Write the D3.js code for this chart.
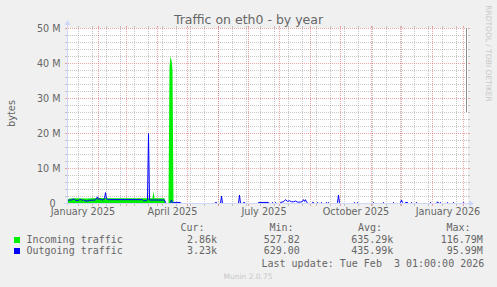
<!DOCTYPE html>
<html><head><meta charset="utf-8">
<script src="https://cdn.jsdelivr.net/npm/d3@7"></script>
<style>html,body{margin:0;padding:0;background:#f0f0f0;overflow:hidden}svg{display:block}text.pre{white-space:pre}</style>
</head><body>
<svg id="c" width="497" height="287"></svg>
<script>
// ---- data ----
const title = "Traffic on eth0 - by year";
const yLabel = "bytes";
const yTickValues = [0, 10e6, 20e6, 30e6, 40e6, 50e6];
const xLabelMonths = ["2025-01-01", "2025-04-01", "2025-07-01", "2025-10-01", "2026-01-01"];
const xLabelTexts = ["January 2025", "April 2025", "July 2025", "October 2025", "January 2026"];
const seriesNames = ["Incoming traffic", "Outgoing traffic"];
const seriesColors = ["#00ee00", "#0000ff"];
const legendHeaders = ["Cur:", "Min:", "Avg:", "Max:"];
const curValues = ["2.86k", "3.23k"];
const minValues = ["527.82", "629.00"];
const avgValues = ["635.29k", "435.99k"];
const maxValues = ["116.79M", "95.99M"];
const lastUpdate = "Last update: Tue Feb  3 01:00:00 2026";
const versionText = "Munin 2.0.75";
const watermark = "RRDTOOL / TOBI OETIKER";

// values in millions of bytes
const incoming = [
  ["2025-01-01",1.0],["2025-01-03",1.4],["2025-01-10",1.5],["2025-01-20",1.4],["2025-02-01",1.6],
  ["2025-02-15",1.5],["2025-03-01",1.5],["2025-03-15",1.5],["2025-03-27",1.5],["2025-03-28",3.5],
  ["2025-03-29",1.5],["2025-04-08",1.5],["2025-04-09",0],["2025-04-12",0],["2025-04-13",39],
  ["2025-04-14",42],["2025-04-15",41],["2025-04-16",38],["2025-04-17",0],["2026-02-03",0]
];
const outgoing = [
  ["2025-01-01",0.9],["2025-01-03",1.0],["2025-01-05",1.0],["2025-01-06",1.2],["2025-01-08",1.2],
  ["2025-01-09",0.9],["2025-01-12",0.9],["2025-01-13",1.1],["2025-01-15",1.1],["2025-01-16",0.8],
  ["2025-01-17",1.1],["2025-01-19",0.6],["2025-01-20",1.0],["2025-01-21",0.5],["2025-01-22",0.9],
  ["2025-01-29",1.0],["2025-01-31",1.9],["2025-02-01",1.1],["2025-02-02",1.3],["2025-02-05",1.0],
  ["2025-02-07",1.3],["2025-02-08",3.1],["2025-02-09",1.3],["2025-02-11",1.1],["2025-03-17",1.1],
  ["2025-03-18",0.8],["2025-03-21",0.8],["2025-03-22",1.0],["2025-03-23",20.0],["2025-03-24",1.0],
  ["2025-04-08",1.0],["2025-04-09",0.2],["2025-04-10",0],["2025-04-13",0],["2025-04-14",0.2],
  ["2025-04-15",1.0],["2025-04-16",0.2],["2025-04-17",0.3],["2025-04-24",0.3],["2025-04-25",0],
  ["2025-05-28",0],["2025-05-29",0.3],["2025-05-30",0.3],["2025-05-31",0],
  ["2025-06-03",0],["2025-06-04",2.1],["2025-06-05",0],
  ["2025-06-21",0],["2025-06-22",2.4],["2025-06-23",0],
  ["2025-06-25",0],["2025-06-26",0.3],["2025-06-27",0.3],["2025-06-28",0],
  ["2025-07-10",0],["2025-07-11",0.3],["2025-07-21",0.3],["2025-07-22",0],
  ["2025-07-24",0],["2025-07-25",0.3],["2025-07-26",0],
  ["2025-07-27",0],["2025-07-28",0.3],["2025-07-29",0],
  ["2025-08-01",0],["2025-08-02",0.3],["2025-08-05",0.5],["2025-08-07",1.1],["2025-08-09",0.6],
  ["2025-08-11",0.8],["2025-08-13",0.5],["2025-08-15",0.5],["2025-08-17",0.7],["2025-08-19",0.4],
  ["2025-08-22",0.4],["2025-08-24",0.6],["2025-08-25",1.1],["2025-08-26",0.6],["2025-08-27",1.1],
  ["2025-08-28",0.4],["2025-08-29",0.2],["2025-08-30",0],
  ["2025-09-02",0],["2025-09-03",0.3],["2025-09-04",0.3],["2025-09-05",0],
  ["2025-09-07",0],["2025-09-08",0.3],["2025-09-09",0],
  ["2025-09-11",0],["2025-09-12",0.3],["2025-09-13",0],
  ["2025-09-16",0],["2025-09-17",0.3],["2025-09-18",0],["2025-09-19",0.3],["2025-09-20",0],
  ["2025-09-27",0],["2025-09-28",0.2],["2025-09-29",2.4],["2025-09-30",0.2],["2025-10-01",0],
  ["2025-10-14",0],["2025-10-15",0.3],["2025-10-16",0],
  ["2025-10-17",0],["2025-10-18",0.3],["2025-10-19",0],
  ["2025-11-02",0],["2025-11-03",0.3],["2025-11-04",0],
  ["2025-11-12",0],["2025-11-13",0.3],["2025-11-14",0],
  ["2025-11-22",0],["2025-11-23",0.3],["2025-11-24",0],
  ["2025-11-29",0],["2025-11-30",0.3],["2025-12-01",1.0],["2025-12-02",0.3],["2025-12-03",0],
  ["2025-12-04",0],["2025-12-05",0.3],["2025-12-07",0.3],["2025-12-08",0],
  ["2025-12-10",0],["2025-12-11",0.3],["2025-12-12",0],
  ["2025-12-15",0],["2025-12-16",0.3],["2025-12-17",0],
  ["2025-12-29",0],["2025-12-30",0.3],["2025-12-31",0],
  ["2026-01-05",0],["2026-01-06",0.5],["2026-01-07",0.2],["2026-01-08",0],["2026-01-09",0.3],["2026-01-10",0],
  ["2026-01-15",0],["2026-01-16",0.3],["2026-01-17",0],
  ["2026-01-21",0],["2026-01-22",0.3],["2026-01-23",0],
  ["2026-01-31",0],["2026-02-01",0.3],["2026-02-02",0],["2026-02-03",0]
];

// ---- drawing ----
const parse = d3.utcParse("%Y-%m-%d");
const DAY = 864e5;
const tStart = parse("2025-01-01");
const tEnd = new Date(+tStart + 400 * DAY);
const L = 67, R = 467, T = 28, B = 203;

const x = d3.scaleUtc().domain([tStart, tEnd]).range([L + 0.5, R + 0.5]);
const y = d3.scaleLinear().domain([0, 50e6]).range([B + 0.5, T + 0.5]);

const svg = d3.select("#c");
const FONT = "'DejaVu Sans', Verdana, sans-serif";
const MONO = "'DejaVu Sans Mono', monospace";
const fontCol = "#666666";
const axisCol = "#CFD6F8";
const gridCol = "rgba(143,143,143,0.5)";
const mgridCol = "rgba(222,79,79,0.5)";

svg.append("rect").attr("width", 497).attr("height", 287).attr("fill", "#f0f0f0");
svg.append("rect").attr("x", L).attr("y", T).attr("width", R - L + 1).attr("height", B - T + 1).attr("fill", "#ffffff");

const grid = svg.append("g").attr("shape-rendering", "crispEdges").attr("stroke-width", 1);

const yMinor = d3.range(0, 50e6 + 1, 2e6).filter(v => v % 10e6 !== 0);
const yMajor = yTickValues;
const xMinor = d3.utcDay.range(parse("2025-01-12"), tEnd, 14);
const xMajor = d3.utcMonth.range(tStart, tEnd);

grid.selectAll(".hm").data(yMinor).join("line")
  .attr("x1", L + 0.5).attr("x2", R + 0.5).attr("y1", d => y(d)).attr("y2", d => y(d))
  .attr("stroke", gridCol).attr("stroke-dasharray", "1,1");
grid.selectAll(".vm").data(xMinor).join("line")
  .attr("x1", d => x(d)).attr("x2", d => x(d)).attr("y1", T + 0.5).attr("y2", B + 0.5)
  .attr("stroke", gridCol).attr("stroke-dasharray", "1,1");
grid.selectAll(".hM").data(yMajor).join("line")
  .attr("x1", L + 0.5).attr("x2", R + 0.5).attr("y1", d => y(d)).attr("y2", d => y(d))
  .attr("stroke", mgridCol).attr("stroke-dasharray", "1,1");
grid.selectAll(".vM").data(xMajor).join("line")
  .attr("x1", d => x(d)).attr("x2", d => x(d)).attr("y1", T + 0.5).attr("y2", B + 0.5)
  .attr("stroke", mgridCol).attr("stroke-dasharray", "1,1");

// tick marks on edges
const ticks = svg.append("g").attr("shape-rendering", "crispEdges");
[[yMinor, gridCol], [yMajor, mgridCol]].forEach(([vals, col]) => {
  ticks.selectAll(null).data(vals).join("line")
    .attr("x1", L - 2).attr("x2", L).attr("y1", d => y(d)).attr("y2", d => y(d)).attr("stroke", col);
  ticks.selectAll(null).data(vals).join("line")
    .attr("x1", R + 1).attr("x2", R + 3).attr("y1", d => y(d)).attr("y2", d => y(d)).attr("stroke", col);
});
[[xMinor, gridCol], [xMajor, mgridCol]].forEach(([vals, col]) => {
  ticks.selectAll(null).data(vals).join("line")
    .attr("x1", d => x(d)).attr("x2", d => x(d)).attr("y1", B + 1).attr("y2", B + 3).attr("stroke", col);
  ticks.selectAll(null).data(vals).join("line")
    .attr("x1", d => x(d)).attr("x2", d => x(d)).attr("y1", T - 2).attr("y2", T).attr("stroke", col);
});

// series
const inData = incoming.map(([d, v]) => ({ date: parse(d), v: v * 1e6 }));
const outData = outgoing.map(([d, v]) => ({ date: parse(d), v: v * 1e6 }));

svg.append("path").datum(inData)
  .attr("d", d3.area().x(d => x(d.date)).y0(y(0)).y1(d => y(d.v)))
  .attr("fill", seriesColors[0]);
svg.append("path").datum(outData)
  .attr("d", d3.line().x(d => x(d.date)).y(d => y(d.v)))
  .attr("fill", "none").attr("stroke", seriesColors[1]).attr("stroke-width", 1);

// axes
const ax = svg.append("g").attr("shape-rendering", "crispEdges");
ax.append("line").attr("x1", L - 3).attr("x2", R + 3).attr("y1", y(0)).attr("y2", y(0)).attr("stroke", axisCol);
ax.append("line").attr("x1", x(tStart)).attr("x2", x(tStart)).attr("y1", B + 3).attr("y2", T - 4).attr("stroke", axisCol);
svg.append("path").attr("d", `M${R + 2},${y(0) - 3}L${R + 7},${y(0)}L${R + 2},${y(0) + 3}Z`).attr("fill", axisCol);
svg.append("path").attr("d", `M${x(tStart) - 3},${T - 3}L${x(tStart)},${T - 8}L${x(tStart) + 3},${T - 3}Z`).attr("fill", axisCol);

// right edge rule
svg.append("line").attr("x1", R - 0.5).attr("x2", R - 0.5).attr("y1", T).attr("y2", 112)
  .attr("stroke", "#8a8a8a").attr("shape-rendering", "crispEdges");

// title
svg.append("text").attr("x", 248.5).attr("y", 23.5).attr("text-anchor", "middle")
  .attr("font-family", FONT).attr("font-size", 12.5).attr("fill", fontCol).text(title);

// y tick labels
svg.selectAll(".yl").data(yTickValues).join("text")
  .attr("x", d => d === 0 ? 55.5 : 60.5).attr("y", d => y(d)).attr("dy", "0.36em")
  .attr("text-anchor", "end").attr("font-family", FONT).attr("font-size", 9.6).attr("fill", fontCol)
  .text(d => d === 0 ? "0" : (d / 1e6) + " M");

// x labels centred on the month
svg.selectAll(".xl").data(xLabelMonths).join("text")
  .attr("x", d => { const a = parse(d); const b = d3.utcMonth.offset(a, 1); return (x(a) + x(b)) / 2; })
  .attr("y", 214.8).attr("text-anchor", "middle")
  .attr("font-family", FONT).attr("font-size", 9.7).attr("fill", fontCol)
  .text((d, i) => xLabelTexts[i]);

// y label
svg.append("text").attr("transform", "translate(14.5,113.5) rotate(-90)").attr("text-anchor", "middle")
  .attr("font-family", FONT).attr("font-size", 9.8).attr("fill", fontCol).text(yLabel);

// watermark
svg.append("text").attr("transform", "translate(485.5,53.5) rotate(90)").attr("text-anchor", "middle")
  .attr("font-family", FONT).attr("font-size", 7.5).attr("fill", "#c8c8c8").text(watermark);

// legend
const lg = svg.append("g").attr("font-family", MONO).attr("font-size", 10).attr("fill", fontCol);
const headerX = [180.5, 269.5, 358, 446.5];
legendHeaders.forEach((h, i) => lg.append("text").attr("class", "pre").attr("x", headerX[i]).attr("y", 231).text(h));
const rowY = [243.3, 254.3];
seriesNames.forEach((n, i) => {
  svg.append("rect").attr("x", 14).attr("y", rowY[i] - 6.3).attr("width", 6).attr("height", 6)
    .attr("fill", seriesColors[i]);
  lg.append("text").attr("class", "pre").attr("x", 26.5).attr("y", rowY[i]).text(n);
  lg.append("text").attr("x", 217).attr("y", rowY[i]).attr("text-anchor", "end").text(curValues[i]);
  lg.append("text").attr("x", 299.8).attr("y", rowY[i]).attr("text-anchor", "end").text(minValues[i]);
  lg.append("text").attr("x", 393.3).attr("y", rowY[i]).attr("text-anchor", "end").text(avgValues[i]);
  lg.append("text").attr("x", 482.8).attr("y", rowY[i]).attr("text-anchor", "end").text(maxValues[i]);
});
lg.append("text").attr("class", "pre").attr("x", 261.5).attr("y", 266.7).text(lastUpdate);

svg.append("text").attr("x", 248).attr("y", 278.5).attr("text-anchor", "middle")
  .attr("font-family", FONT).attr("font-size", 7.5).attr("fill", "#c8c8c8").text(versionText);
</script>
</body></html>
